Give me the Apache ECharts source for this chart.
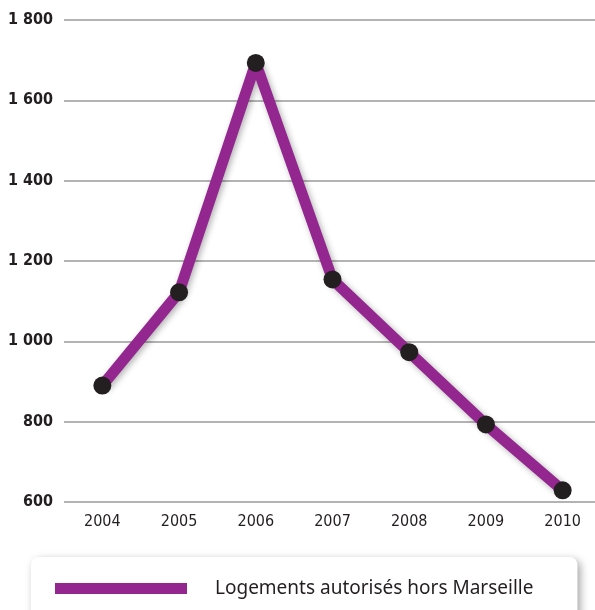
<!DOCTYPE html>
<html>
<head>
<meta charset="utf-8">
<script src="https://cdn.jsdelivr.net/npm/echarts@6/dist/echarts.min.js"></script>
<style>
  html, body { margin: 0; padding: 0; background: #fff; }
  #chart { width: 595px; height: 610px; }
</style>
</head>
<body>
<div id="chart"></div>
<script>
const years = ['2004', '2005', '2006', '2007', '2008', '2009', '2010']
const logements = [890, 1122, 1693, 1154, 973, 793, 629]
const seriesName = 'Logements autorisés hors Marseille'

const purple = '#93278F'
const ink = '#231F20'
const narrow = "'Liberation Sans Narrow', 'DejaVu Sans Condensed', sans-serif"

const chart = echarts.init(document.getElementById('chart'))
chart.setOption({
  animation: false,
  grid: {
    left: 64,
    right: -6,
    top: 20,
    height: 482,
    outerBoundsMode: 'none'
  },
  legend: {
    data: [{ name: seriesName, icon: 'rect' }],
    left: 31,
    top: 557,
    itemWidth: 132,
    itemHeight: 11,
    itemGap: 0,
    padding: [22, 44, 40, 24],
    backgroundColor: '#fff',
    borderRadius: 8,
    shadowBlur: 8,
    shadowColor: 'rgba(0,0,0,0.35)',
    shadowOffsetX: 3,
    shadowOffsetY: 3,
    itemStyle: { color: purple },
    textStyle: {
      color: ink,
      fontFamily: "'Noto Sans', sans-serif",
      fontSize: 19,
      padding: [0, 0, 0, 23]
    }
  },
  xAxis: {
    type: 'category',
    data: years,
    boundaryGap: true,
    axisLine: { show: false },
    axisTick: { show: false },
    axisLabel: {
      color: ink,
      fontFamily: narrow,
      fontSize: 16,
      margin: 12
    }
  },
  yAxis: {
    type: 'value',
    min: 600,
    max: 1800,
    interval: 200,
    axisLine: { show: false },
    axisTick: { show: false },
    splitLine: { lineStyle: { color: '#9a9a9a', width: 1.5 } },
    axisLabel: {
      color: ink,
      fontFamily: narrow,
      fontWeight: 'bold',
      fontSize: 16,
      margin: 11,
      formatter: v => String(v).replace(/\B(?=(\d{3})+(?!\d))/g, ' ')
    }
  },
  series: [
    {
      name: seriesName,
      type: 'line',
      data: logements,
      symbol: 'circle',
      symbolSize: 18,
      lineStyle: {
        color: purple,
        width: 11,
        shadowBlur: 6,
        shadowColor: 'rgba(0,0,0,0.3)',
        shadowOffsetX: 2,
        shadowOffsetY: 2
      },
      itemStyle: { color: ink }
    }
  ]
})
</script>
</body>
</html>
